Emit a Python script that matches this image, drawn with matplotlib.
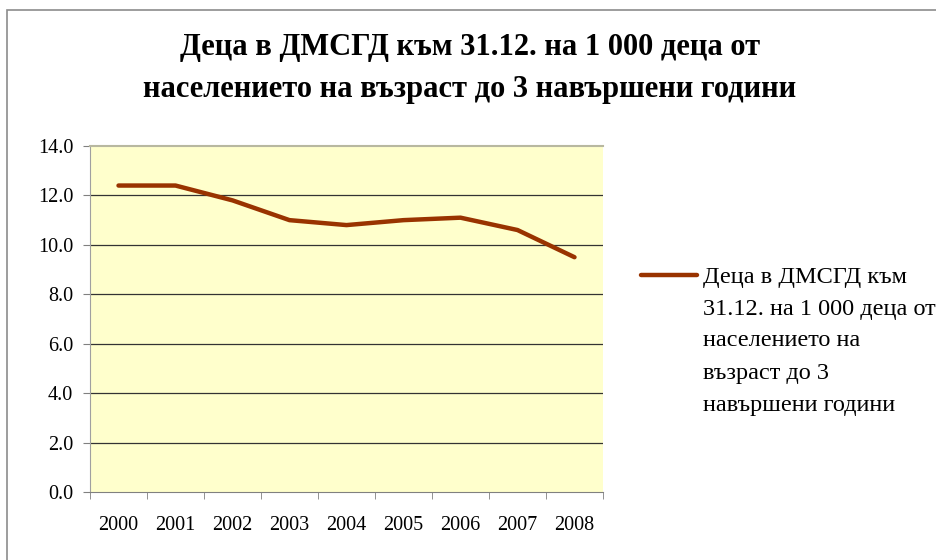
import matplotlib.pyplot as plt
from matplotlib.lines import Line2D
from matplotlib.patches import Rectangle

plt.rcParams['font.family'] = ['Liberation Serif', 'DejaVu Serif']

years = ['2000', '2001', '2002', '2003', '2004', '2005', '2006', '2007', '2008']
values = [12.4, 12.4, 11.8, 11.0, 10.8, 11.0, 11.1, 10.6, 9.5]
yticks = [0, 2, 4, 6, 8, 10, 12, 14]
title_lines = ['Деца в ДМСГД към 31.12. на 1 000 деца от',
               'населението на възраст до 3 навършени години']
legend_lines = ['Деца в ДМСГД към', '31.12. на 1 000 деца от', 'населението на',
                'възраст до 3', 'навършени години']

line_color = '#993300'
W, H = 937, 560

fig = plt.figure(figsize=(W / 100, H / 100), dpi=100)
# outer chart border (runs off the right and bottom edges)
fig.patches.append(Rectangle((7 / W, -0.05), 1.0, 1.05 - 10 / H, transform=fig.transFigure,
                             fill=False, edgecolor='#8c8c8c', linewidth=1.2))

ax = fig.add_axes([90 / W, 68 / H, 513 / W, 346 / H])
ax.set_facecolor('#ffffcc')

x = range(len(years))
ax.plot(x, values, color=line_color, linewidth=3.2, solid_capstyle='round', zorder=3)

ax.set_xlim(-0.5, len(years) - 0.5)
ax.set_ylim(0, 14)
ax.set_yticks(yticks)
ax.set_yticklabels([f'{v:.1f}' for v in yticks], fontsize=14.5)
ax.set_xticks(list(x))
ax.set_xticklabels(years, fontsize=14.5)
ax.set_xticks([i - 0.5 for i in range(len(years) + 1)], minor=True)
ax.tick_params(axis='x', which='major', length=0, pad=17.5)
ax.tick_params(axis='x', which='minor', length=5, color='#808080', direction='out')
ax.tick_params(axis='y', length=5, color='#808080', direction='out', pad=7)

for v in yticks[1:-1]:
    ax.axhline(v, color='#333333', linewidth=0.9, zorder=1)

ax.spines['right'].set_visible(False)
ax.spines['top'].set_color('#b8b8a0')
ax.spines['top'].set_linewidth(1.5)
ax.spines['left'].set_color('#a0a0a0')
ax.spines['bottom'].set_color('#808080')

for i, t in enumerate(title_lines):
    fig.text(470 / W, 1 - (48 + 41 * i) / H, t, ha='center', va='center',
             fontsize=22, fontweight='bold')

# legend
fig.add_artist(Line2D([641 / W, 697 / W], [1 - 275 / H, 1 - 275 / H],
                      transform=fig.transFigure, color=line_color, linewidth=3.2,
                      solid_capstyle='round'))
for i, t in enumerate(legend_lines):
    fig.text(703 / W, 1 - (277 + 32 * i) / H, t, ha='left', va='center', fontsize=17.5)

fig.savefig('out.png', dpi=100)
